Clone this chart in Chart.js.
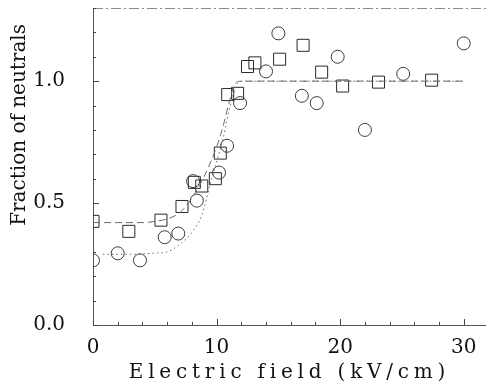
<!DOCTYPE html>
<html>
<head>
<meta charset="utf-8">
<script src="https://cdn.jsdelivr.net/npm/chart.js@4/dist/chart.umd.min.js"></script>
<style>
  html, body { margin: 0; padding: 0; background: #fff; }
  #wrap { width: 486px; height: 392px; }
</style>
</head>
<body>
<div id="wrap"><canvas id="c" width="486" height="392"></canvas></div>
<script>
// ---- data ----
const circlesX = [0, 2, 3.8, 5.8, 6.9, 8.1, 8.4, 10.2, 10.85, 11.9, 14.0, 15.0, 16.9, 18.1, 19.8, 22.0, 25.1, 30.0];
const circlesY = [0.265, 0.294, 0.265, 0.36, 0.375, 0.59, 0.51, 0.625, 0.735, 0.91, 1.04, 1.196, 0.94, 0.91, 1.10, 0.80, 1.03, 1.155];

const squaresX = [0, 2.9, 5.5, 7.2, 8.2, 8.8, 9.9, 10.3, 10.9, 11.7, 12.5, 13.1, 15.1, 17.0, 18.5, 20.2, 23.1, 27.4];
const squaresY = [0.425, 0.384, 0.43, 0.486, 0.585, 0.57, 0.60, 0.705, 0.945, 0.95, 1.06, 1.075, 1.09, 1.147, 1.037, 0.98, 0.996, 1.004];

const fitSquaresX = [0, 2, 4, 5, 6, 7, 8, 9, 10, 10.5, 11, 11.5, 12, 30];
const fitSquaresY = [0.42, 0.42, 0.42, 0.425, 0.435, 0.46, 0.52, 0.61, 0.73, 0.81, 0.91, 0.99, 1.0, 1.0];

const fitCirclesX = [0.8, 3, 5, 6, 7, 8, 8.8, 9.5, 10.5, 11.2, 11.7, 12.2, 30];
const fitCirclesY = [0.29, 0.29, 0.295, 0.30, 0.33, 0.38, 0.45, 0.58, 0.76, 0.92, 0.99, 1.0, 1.0];

const xLabelValues = [0, 10, 20, 30];
const yLabelValues = [0.0, 0.5, 1.0];
const xTitle = 'Electric field (kV/cm)';
const yTitle = 'Fraction of neutrals';

const pts = (xs, ys) => xs.map((x, i) => ({ x: x, y: ys[i] }));
const FONT = "'DejaVu Serif', 'Liberation Serif', serif";

const zeroPad = s => { s.paddingLeft = 0; s.paddingRight = 0; s.paddingTop = 0; s.paddingBottom = 0; };

// inward tick marks, top frame line and title tweaks
const axisDecor = {
  id: 'axisDecor',
  beforeDraw(chart) {
    const ctx = chart.ctx;
    const xs = chart.scales.x, ys = chart.scales.y;
    if (xs && !xs._patched) {
      const orig = xs.drawTitle.bind(xs);
      xs.drawTitle = function () {
        ctx.save();
        try { ctx.letterSpacing = '4.8px'; } catch (e) {}
        orig();
        ctx.restore();
      };
      xs._patched = true;
    }
    if (ys && !ys._patched) {
      const orig = ys.drawTitle.bind(ys);
      ys.drawTitle = function () {
        ctx.save();
        ctx.translate(0, 16);
        orig();
        ctx.restore();
      };
      ys._patched = true;
    }
  },
  afterDraw(chart) {
    const ctx = chart.ctx;
    const a = chart.chartArea;
    ctx.save();
    // top frame line
    ctx.strokeStyle = '#8a8a8a';
    ctx.lineWidth = 1;
    ctx.setLineDash([10, 3, 2, 3]);
    ctx.beginPath();
    ctx.moveTo(a.left, a.top + 0.5);
    ctx.lineTo(a.right, a.top + 0.5);
    ctx.stroke();
    ctx.setLineDash([]);
    ctx.strokeStyle = '#444';
    const xs = chart.scales.x, ys = chart.scales.y;
    xs.ticks.forEach(t => {
      const v = t.value;
      if (Math.abs(v / 2 - Math.round(v / 2)) > 1e-6) return;
      const major = xLabelValues.some(m => Math.abs(m - v) < 1e-6);
      const px = Math.round(xs.getPixelForValue(v)) + 0.5;
      const len = major ? 6 : 3;
      ctx.beginPath();
      ctx.moveTo(px, a.bottom);
      ctx.lineTo(px, a.bottom - len);
      ctx.stroke();
    });
    ys.ticks.forEach(t => {
      const v = t.value;
      if (Math.abs(v * 10 - Math.round(v * 10)) > 1e-6) return;
      const major = yLabelValues.some(m => Math.abs(m - v) < 1e-6);
      const py = Math.round(ys.getPixelForValue(v)) + 0.5;
      const len = major ? 6 : 3;
      ctx.beginPath();
      ctx.moveTo(a.left, py);
      ctx.lineTo(a.left + len, py);
      ctx.stroke();
    });
    ctx.restore();
  }
};

new Chart(document.getElementById('c'), {
  type: 'scatter',
  data: {
    datasets: [
      {
        type: 'line',
        label: 'fit squares',
        data: pts(fitSquaresX, fitSquaresY),
        borderColor: '#6a6a6a',
        borderWidth: 1,
        borderDash: [7, 4],
        pointRadius: 0,
        fill: false,
        cubicInterpolationMode: 'monotone'
      },
      {
        type: 'line',
        label: 'fit circles',
        data: pts(fitCirclesX, fitCirclesY),
        borderColor: '#6a6a6a',
        borderWidth: 1,
        borderDash: [1.5, 3],
        pointRadius: 0,
        fill: false,
        cubicInterpolationMode: 'monotone'
      },
      {
        label: 'circles',
        data: pts(circlesX, circlesY),
        pointStyle: 'circle',
        pointRadius: 6.5,
        borderColor: '#3a3a3a',
        backgroundColor: 'rgba(0,0,0,0)',
        borderWidth: 1,
        showLine: false
      },
      {
        label: 'squares',
        data: pts(squaresX, squaresY),
        pointStyle: 'rect',
        pointRadius: 8.5,
        borderColor: '#2a2a2a',
        backgroundColor: 'rgba(0,0,0,0)',
        borderWidth: 1,
        showLine: false
      }
    ]
  },
  options: {
    responsive: false,
    animation: false,
    events: [],
    layout: { autoPadding: false, padding: { top: 8, right: 0, left: 0, bottom: 0 } },
    plugins: {
      legend: { display: false },
      tooltip: { enabled: false }
    },
    scales: {
      x: {
        type: 'linear',
        position: 'bottom',
        min: 0,
        max: 31.8,
        afterFit(s) { s.height = 67; zeroPad(s); },
        grid: { display: false },
        border: { display: true, color: '#555', width: 1 },
        ticks: {
          stepSize: 2,
          autoSkip: false,
          includeBounds: false,
          maxRotation: 0,
          padding: 3,
          color: '#111',
          font: { family: FONT, size: 20 },
          callback: v => xLabelValues.some(m => Math.abs(m - v) < 1e-6) ? String(Math.round(v)) : ''
        },
        title: {
          display: true,
          text: xTitle,
          color: '#111',
          font: { family: FONT, size: 20 },
          padding: { top: 0, bottom: 7 }
        }
      },
      y: {
        type: 'linear',
        position: 'left',
        min: 0,
        max: 1.3,
        afterFit(s) { s.width = 93; zeroPad(s); },
        grid: { display: false },
        border: { display: true, color: '#555', width: 1 },
        ticks: {
          stepSize: 0.1,
          autoSkip: false,
          includeBounds: false,
          padding: 20,
          color: '#111',
          font: { family: FONT, size: 20 },
          callback: v => yLabelValues.some(m => Math.abs(m - v) < 1e-6) ? Number(v).toFixed(1) : ''
        },
        title: {
          display: true,
          text: yTitle,
          align: 'end',
          color: '#111',
          font: { family: FONT, size: 20 },
          padding: { top: 8, bottom: 0 }
        }
      }
    }
  },
  plugins: [axisDecor]
});
</script>
</body>
</html>
